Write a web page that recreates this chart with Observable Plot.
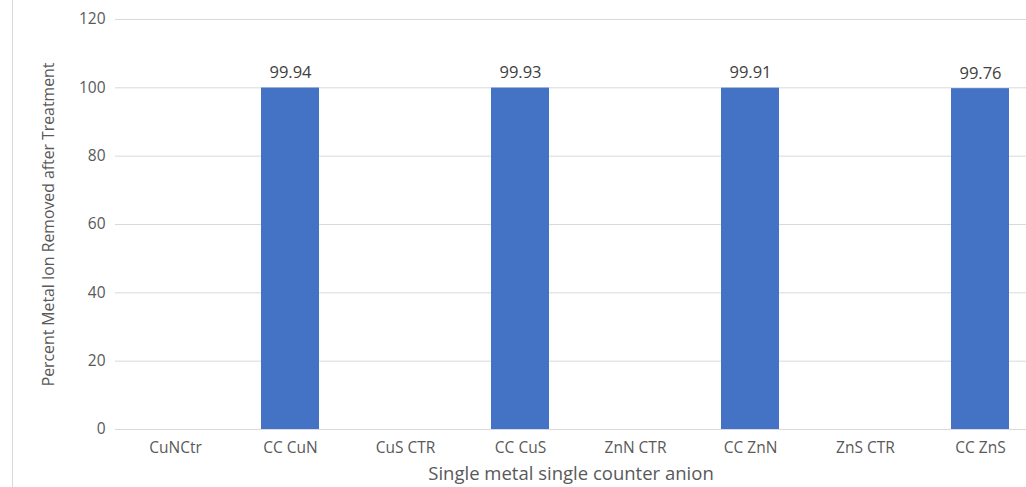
<!DOCTYPE html>
<html>
<head>
<meta charset="utf-8">
<script src="https://cdn.jsdelivr.net/npm/d3@7"></script>
<script src="https://cdn.jsdelivr.net/npm/@observablehq/plot@0.6"></script>
<style>
  html, body { margin: 0; padding: 0; background: #fff; overflow: hidden; }
  #frame { position: absolute; left: 12px; top: 0; width: 1014px; height: 487px; border-left: 1px solid #d9d9d9; }
  #chart { position: absolute; left: 0; top: 0; }
  #chart svg { overflow: visible; }
</style>
</head>
<body>
<div id="frame"></div>
<div id="chart"></div>
<script>
const categories = ["CuNCtr", "CC CuN", "CuS CTR", "CC CuS", "ZnN CTR", "CC ZnN", "ZnS CTR", "CC ZnS"];
const values = [null, 99.94, null, 99.93, null, 99.91, null, 99.76];
const valueLabels = ["", "99.94", "", "99.93", "", "99.91", "", "99.76"];
const yTicks = [0, 20, 40, 60, 80, 100, 120];

const data = categories.map((c, i) => ({ cat: c, value: values[i], label: valueLabels[i] }));
const bars = data.filter(d => d.value != null);

const plot = Plot.plot({
  width: 1026,
  height: 487,
  marginTop: 19,
  marginBottom: 58,
  marginLeft: 115,
  marginRight: 0,
  style: { fontFamily: "'Open Sans', sans-serif", background: "transparent", overflow: "visible" },
  x: { domain: categories, range: [115, 1039], paddingInner: 0.5, paddingOuter: 0.25, label: null },
  y: { domain: [0, 120], label: null },
  marks: [
    Plot.gridY(yTicks, { stroke: "#d9d9d9", strokeOpacity: 1, strokeWidth: 1 }),
    Plot.axisY(yTicks, { tickSize: 0, tickPadding: 10, fontSize: 15.5, color: "#595959", label: null }),
    Plot.axisX({ tickSize: 0, tickPadding: 12, fontSize: 15.5, color: "#595959", label: null }),
    Plot.barY(bars, { x: "cat", y: "value", fill: "#4472C4" }),
    Plot.text(bars, { x: "cat", y: "value", text: "label", dy: -15, fontSize: 16.5, fill: "#404040" }),
    Plot.text(["Percent Metal Ion Removed after Treatment"], {
      frameAnchor: "left", textAnchor: "middle", lineAnchor: "middle", dx: -67, rotate: -90,
      fontSize: 15.8, fill: "#595959"
    }),
    Plot.text(["Single metal single counter anion"], {
      frameAnchor: "bottom", lineAnchor: "middle", dy: 45, fontSize: 18.5, fill: "#595959"
    })
  ]
});
document.getElementById("chart").appendChild(plot);
</script>
</body>
</html>
